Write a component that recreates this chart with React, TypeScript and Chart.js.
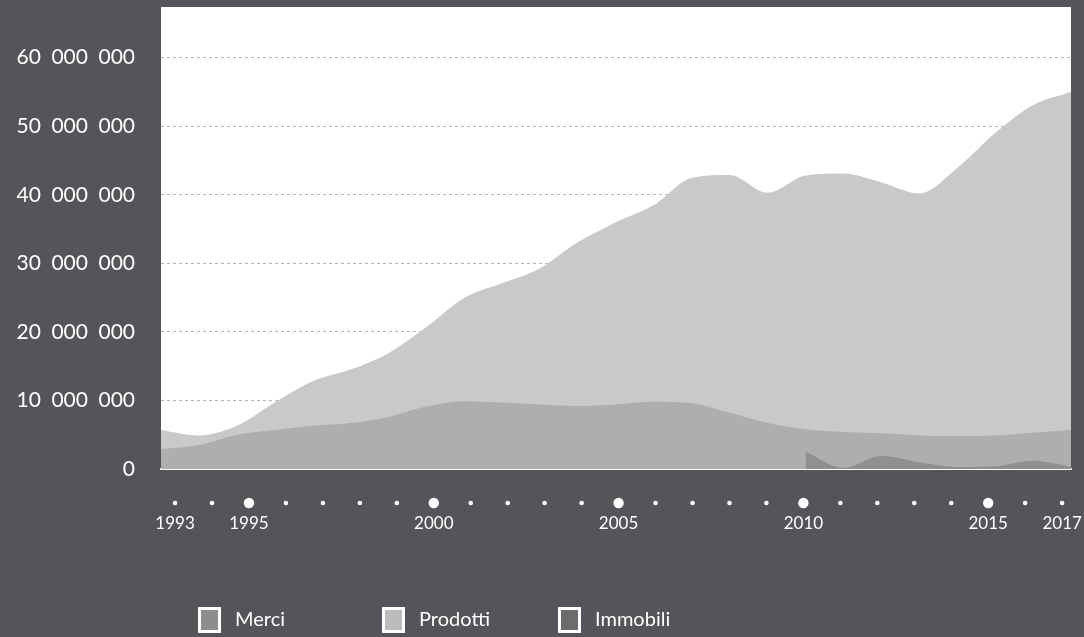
import { useEffect, useRef } from 'react';
import { Chart, registerables } from 'chart.js';

Chart.register(...registerables);

// ---- data ----
const YEARS = [1993, 1994, 1995, 1996, 1997, 1998, 1999, 2000, 2001, 2002, 2003, 2004, 2005, 2006, 2007, 2008, 2009, 2010, 2011, 2012, 2013, 2014, 2015, 2016, 2017];

const MERCI = [2900000, 3500000, 5000000, 5700000, 6300000, 6700000, 7600000, 9100000, 9900000, 9700000, 9400000, 9200000, 9400000, 9800000, 9600000, 8200000, 6700000, 5800000, 5400000, 5200000, 4900000, 4800000, 4900000, 5300000, 5700000];

const PRODOTTI = [5700000, 4900000, 6300000, 9700000, 12800000, 14500000, 16900000, 20700000, 25000000, 27100000, 29300000, 33100000, 36000000, 38500000, 42500000, 42900000, 40300000, 42800000, 43100000, 41800000, 40200000, 43900000, 49000000, 53100000, 55000000];

const IMMOBILI = [null, null, null, null, null, null, null, null, null, null, null, null, null, null, null, null, null, 2500000, 150000, 1900000, 1000000, 300000, 400000, 1200000, 300000];

const SERIES_NAMES = ['Merci', 'Prodotti', 'Immobili'];
const LABELED_YEARS = [1993, 1995, 2000, 2005, 2010, 2015, 2017];
const Y_TICKS = [0, 10000000, 20000000, 30000000, 40000000, 50000000, 60000000];
const Y_MAX = 67400000;

// ---- styles ----
const BG = '#545559';
const FILL_COLORS = ['#adaeb0', '#c8c9cb', '#8e8f91'];
const LEGEND_COLORS = ['#8c8d8f', '#bbbcbe', '#6b6c6e'];
const LEGEND_X = [198, 382, 558];
const DRAW_ORDER = [1, 2, 0];

const fmt = (v: number) => String(v).replace(/\B(?=(\d{3})+(?!\d))/g, '\u2002');

const backgroundPlugin = {
  id: 'plotBackground',
  beforeDraw(chart: any) {
    const { ctx, chartArea: a } = chart;
    ctx.save();
    ctx.fillStyle = BG;
    ctx.fillRect(0, 0, chart.width, chart.height);
    ctx.fillStyle = '#ffffff';
    ctx.fillRect(a.left, a.top, a.right - a.left, a.bottom - a.top);
    ctx.restore();
  },
};

const dotsPlugin = {
  id: 'yearDots',
  afterDraw(chart: any) {
    const { ctx, chartArea } = chart;
    const s = chart.scales.xDots;
    ctx.save();
    ctx.fillStyle = '#ffffff';
    s.ticks.forEach((t: any) => {
      const x = s.getPixelForValue(t.value);
      const big = t.value % 5 === 0;
      ctx.beginPath();
      ctx.arc(x, chartArea.bottom + 34, big ? 5.2 : 2.3, 0, Math.PI * 2);
      ctx.fill();
    });
    ctx.restore();
  },
};

const legendPlugin = {
  id: 'boxLegend',
  afterDraw(chart: any) {
    const { ctx } = chart;
    const top = 607;
    const w = 23;
    const h = 26;
    ctx.save();
    chart.data.datasets.forEach((ds: any, i: number) => {
      const x = LEGEND_X[i];
      ctx.fillStyle = '#ffffff';
      ctx.fillRect(x, top, w, h);
      ctx.fillStyle = LEGEND_COLORS[i];
      ctx.fillRect(x + 3, top + 3, w - 6, h - 6);
      ctx.fillStyle = '#ffffff';
      ctx.font = '20px Lato, "Noto Sans", sans-serif';
      ctx.textAlign = 'left';
      ctx.textBaseline = 'middle';
      ctx.fillText(ds.label, x + w + 14, top + h / 2);
    });
    ctx.restore();
  },
};

export default function App() {
  const ref = useRef<HTMLCanvasElement>(null);

  useEffect(() => {
    document.body.style.margin = '0';
    document.body.style.background = BG;
    const series = [MERCI, PRODOTTI, IMMOBILI];
    const chart = new Chart(ref.current as HTMLCanvasElement, {
      type: 'line',
      data: {
        datasets: series.map((vals, i) => ({
          label: SERIES_NAMES[i],
          data: YEARS.map((yr, j) => ({ x: yr, y: vals[j] })),
          backgroundColor: FILL_COLORS[i],
          borderColor: FILL_COLORS[i],
          borderWidth: 0,
          fill: 'origin',
          order: DRAW_ORDER[i],
          xAxisID: 'x',
          yAxisID: 'y',
          spanGaps: false,
        })),
      },
      options: {
        animation: false,
        responsive: false,
        maintainAspectRatio: false,
        layout: { padding: { top: 7, right: 13, left: 0, bottom: 0 } },
        plugins: { legend: { display: false }, tooltip: { enabled: false } },
        elements: {
          point: { radius: 0 },
          line: { tension: 0.4, cubicInterpolationMode: 'monotone', borderWidth: 0 },
        },
        scales: {
          x: { type: 'linear', min: YEARS[0], max: YEARS[YEARS.length - 1], display: false },
          xDots: {
            type: 'linear',
            position: 'bottom',
            min: 1992.62,
            max: 2017.24,
            z: 1,
            grid: { display: false, drawTicks: false },
            border: { display: true, color: '#ffffff', width: 2 },
            ticks: {
              stepSize: 1,
              autoSkip: false,
              maxRotation: 0,
              includeBounds: false,
              padding: 44,
              color: '#ffffff',
              font: { family: 'Lato, "Noto Sans", sans-serif', size: 17 },
              callback: (v: any) => (LABELED_YEARS.includes(Number(v)) ? String(v) : ''),
            },
            afterFit: (s: any) => {
              s.height = 168;
              s.paddingLeft = 0;
              s.paddingRight = 0;
            },
          },
          y: {
            type: 'linear',
            position: 'left',
            min: 0,
            max: Y_MAX,
            z: 1,
            border: { display: false, dash: [3, 3] },
            grid: {
              drawTicks: false,
              lineWidth: 1,
              color: (c: any) => (c.tick && c.tick.value === 0 ? 'rgba(0,0,0,0)' : '#b4b5b7'),
            },
            afterBuildTicks: (s: any) => {
              s.ticks = Y_TICKS.map((v) => ({ value: v }));
            },
            ticks: {
              padding: 26,
              color: '#ffffff',
              font: { family: 'Lato, "Noto Sans", sans-serif', size: 21 },
              callback: (v: any) => fmt(Number(v)),
            },
            afterFit: (s: any) => {
              s.width = 161;
              s.paddingTop = 0;
              s.paddingBottom = 0;
            },
          },
        },
      } as any,
      plugins: [backgroundPlugin, dotsPlugin, legendPlugin],
    });
    return () => chart.destroy();
  }, []);

  return (
    <div style={{ width: 1084, height: 637, background: BG }}>
      <canvas ref={ref} width={1084} height={637} style={{ display: 'block', width: 1084, height: 637 }} />
    </div>
  );
}
